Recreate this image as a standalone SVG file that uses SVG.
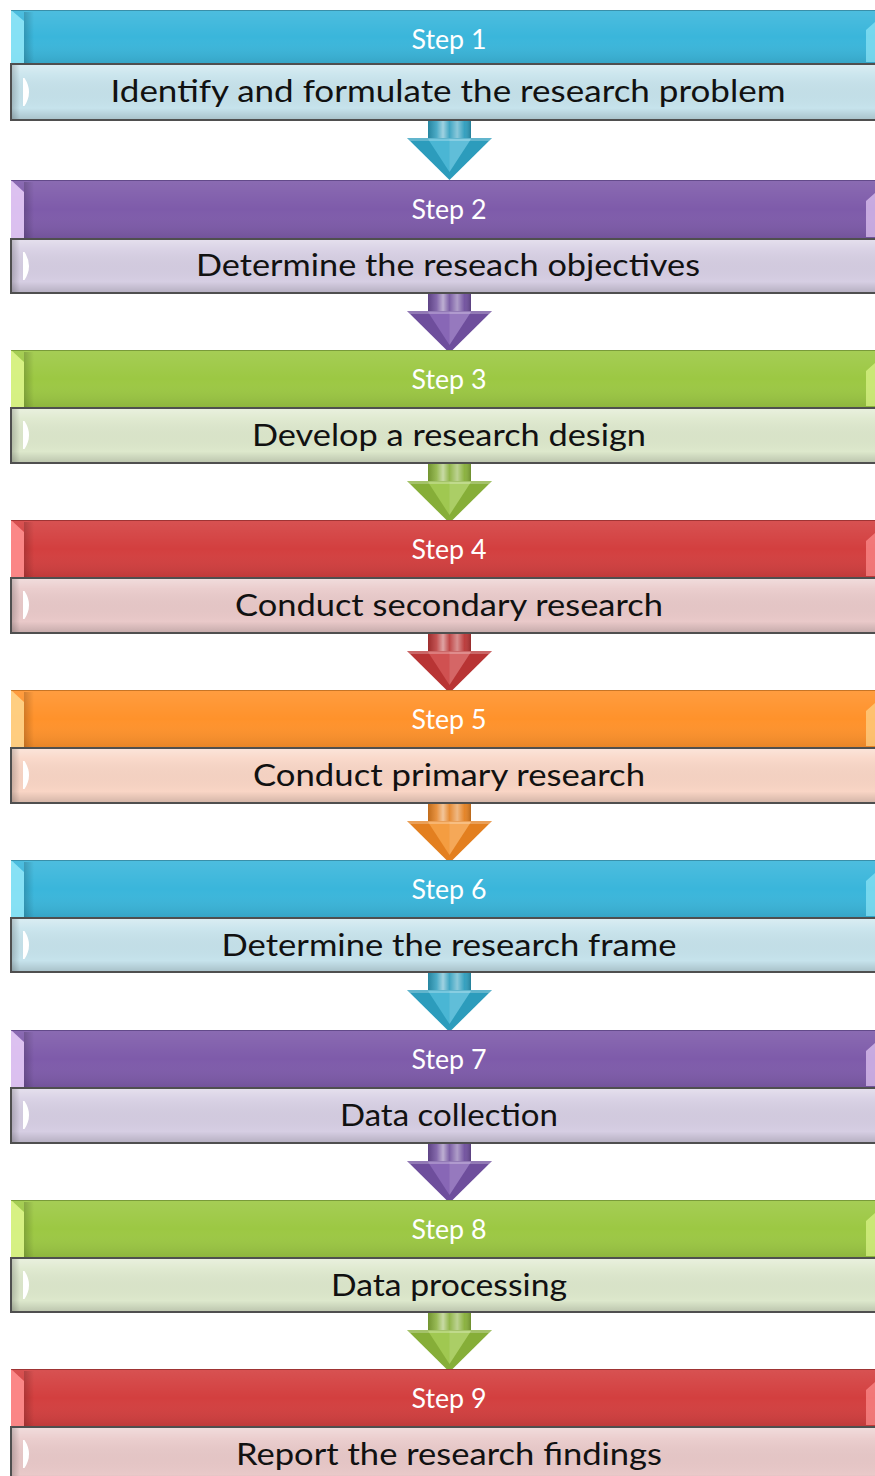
<svg xmlns="http://www.w3.org/2000/svg" width="875" height="1476" viewBox="0 0 875 1476">
  <defs>
    <style>
      .hdr-text { font-family: Lato, "Open Sans", "Liberation Sans", sans-serif; font-size: 26px; fill: #ffffff; text-anchor: middle; }
      .body-text { font-family: Lato, "Open Sans", "Liberation Sans", sans-serif; font-size: 30px; fill: #111111; text-anchor: middle; }
      .body { stroke: #4f4f4f; stroke-width: 2; }
      /* colour themes */
      .blue .hdr { fill: #3AB6DB; } .blue .body { fill: #C6E3EC; } .blue .bev { fill: #8EE6F7; } .blue .arr { fill: #2C9CBC; } .blue .arr-hi { fill: #5FC8E4; }
      .purple .hdr { fill: #7E5BAA; } .purple .body { fill: #D6CEE3; } .purple .bev { fill: #E6CBF7; } .purple .arr { fill: #6E4E9C; } .purple .arr-hi { fill: #9A78C8; }
      .green .hdr { fill: #9CC843; } .green .body { fill: #DDE8CC; } .green .bev { fill: #DDF58A; } .green .arr { fill: #86AE38; } .green .arr-hi { fill: #B2D862; }
      .red .hdr { fill: #D33F3F; } .red .body { fill: #E9C9C9; } .red .bev { fill: #FF8E8E; } .red .arr { fill: #B83434; } .red .arr-hi { fill: #E06666; }
      .orange .hdr { fill: #FF922B; } .orange .body { fill: #F9D5C5; } .orange .bev { fill: #FFD48A; } .orange .arr { fill: #E37F1F; } .orange .arr-hi { fill: #FFB058; }
    </style>
    <linearGradient id="hdrShade" x1="0" y1="0" x2="0" y2="1">
      <stop offset="0" stop-color="#ffffff" stop-opacity="0.10"/>
      <stop offset="0.5" stop-color="#ffffff" stop-opacity="0"/>
      <stop offset="1" stop-color="#000000" stop-opacity="0.10"/>
    </linearGradient>
    <linearGradient id="leftShade" x1="0" y1="0" x2="1" y2="0">
      <stop offset="0" stop-color="#000000" stop-opacity="0.18"/>
      <stop offset="1" stop-color="#000000" stop-opacity="0"/>
    </linearGradient>
    <linearGradient id="bodyShade" x1="0" y1="0" x2="0" y2="1">
      <stop offset="0" stop-color="#ffffff" stop-opacity="0.35"/>
      <stop offset="0.18" stop-color="#ffffff" stop-opacity="0.1"/>
      <stop offset="0.8" stop-color="#000000" stop-opacity="0"/>
      <stop offset="1" stop-color="#000000" stop-opacity="0.14"/>
    </linearGradient>
    <linearGradient id="shaftShade" x1="0" y1="0" x2="1" y2="0">
      <stop offset="0" stop-color="#000000" stop-opacity="0.15"/>
      <stop offset="0.2" stop-color="#ffffff" stop-opacity="0.15"/>
      <stop offset="0.35" stop-color="#ffffff" stop-opacity="0.55"/>
      <stop offset="0.5" stop-color="#ffffff" stop-opacity="0.1"/>
      <stop offset="0.68" stop-color="#ffffff" stop-opacity="0.45"/>
      <stop offset="0.85" stop-color="#ffffff" stop-opacity="0.05"/>
      <stop offset="1" stop-color="#000000" stop-opacity="0.2"/>
    </linearGradient>
    <!-- white half-lens highlight on the left of each body band -->
    <path id="lens" d="M0,0 h1.5 q9,14 0,28 h-1.5 z" fill="#ffffff"/>
  </defs>

  <rect width="875" height="1476" fill="#ffffff"/>

  <!-- connectors: downward arrows, each drawn with its top at local y=0 -->
  <g id="connectors">
    <g class="blue" transform="translate(0,120)">
      <rect class="arr" x="428" y="-1" width="43" height="20"/><rect x="428" y="-1" width="43" height="20" fill="url(#shaftShade)"/>
      <polygon class="arr" points="407,18 492,18 449.5,60"/><polygon class="arr-hi" points="428,19 471,19 449.5,52" opacity="0.6"/>
      <polygon points="449.5,19 471,19 449.5,52" fill="#ffffff" opacity="0.12"/><polygon points="407,18 492,18 489,21 410,21" fill="#ffffff" opacity="0.25"/>
    </g>
    <g class="purple" transform="translate(0,293)">
      <rect class="arr" x="428" y="-1" width="43" height="20"/><rect x="428" y="-1" width="43" height="20" fill="url(#shaftShade)"/>
      <polygon class="arr" points="407,18 492,18 449.5,60"/><polygon class="arr-hi" points="428,19 471,19 449.5,52" opacity="0.6"/>
      <polygon points="449.5,19 471,19 449.5,52" fill="#ffffff" opacity="0.12"/><polygon points="407,18 492,18 489,21 410,21" fill="#ffffff" opacity="0.25"/>
    </g>
    <g class="green" transform="translate(0,463)">
      <rect class="arr" x="428" y="-1" width="43" height="20"/><rect x="428" y="-1" width="43" height="20" fill="url(#shaftShade)"/>
      <polygon class="arr" points="407,18 492,18 449.5,60"/><polygon class="arr-hi" points="428,19 471,19 449.5,52" opacity="0.6"/>
      <polygon points="449.5,19 471,19 449.5,52" fill="#ffffff" opacity="0.12"/><polygon points="407,18 492,18 489,21 410,21" fill="#ffffff" opacity="0.25"/>
    </g>
    <g class="red" transform="translate(0,633)">
      <rect class="arr" x="428" y="-1" width="43" height="20"/><rect x="428" y="-1" width="43" height="20" fill="url(#shaftShade)"/>
      <polygon class="arr" points="407,18 492,18 449.5,60"/><polygon class="arr-hi" points="428,19 471,19 449.5,52" opacity="0.6"/>
      <polygon points="449.5,19 471,19 449.5,52" fill="#ffffff" opacity="0.12"/><polygon points="407,18 492,18 489,21 410,21" fill="#ffffff" opacity="0.25"/>
    </g>
    <g class="orange" transform="translate(0,803)">
      <rect class="arr" x="428" y="-1" width="43" height="20"/><rect x="428" y="-1" width="43" height="20" fill="url(#shaftShade)"/>
      <polygon class="arr" points="407,18 492,18 449.5,60"/><polygon class="arr-hi" points="428,19 471,19 449.5,52" opacity="0.6"/>
      <polygon points="449.5,19 471,19 449.5,52" fill="#ffffff" opacity="0.12"/><polygon points="407,18 492,18 489,21 410,21" fill="#ffffff" opacity="0.25"/>
    </g>
    <g class="blue" transform="translate(0,972)">
      <rect class="arr" x="428" y="-1" width="43" height="20"/><rect x="428" y="-1" width="43" height="20" fill="url(#shaftShade)"/>
      <polygon class="arr" points="407,18 492,18 449.5,60"/><polygon class="arr-hi" points="428,19 471,19 449.5,52" opacity="0.6"/>
      <polygon points="449.5,19 471,19 449.5,52" fill="#ffffff" opacity="0.12"/><polygon points="407,18 492,18 489,21 410,21" fill="#ffffff" opacity="0.25"/>
    </g>
    <g class="purple" transform="translate(0,1143)">
      <rect class="arr" x="428" y="-1" width="43" height="20"/><rect x="428" y="-1" width="43" height="20" fill="url(#shaftShade)"/>
      <polygon class="arr" points="407,18 492,18 449.5,60"/><polygon class="arr-hi" points="428,19 471,19 449.5,52" opacity="0.6"/>
      <polygon points="449.5,19 471,19 449.5,52" fill="#ffffff" opacity="0.12"/><polygon points="407,18 492,18 489,21 410,21" fill="#ffffff" opacity="0.25"/>
    </g>
    <g class="green" transform="translate(0,1312)">
      <rect class="arr" x="428" y="-1" width="43" height="20"/><rect x="428" y="-1" width="43" height="20" fill="url(#shaftShade)"/>
      <polygon class="arr" points="407,18 492,18 449.5,60"/><polygon class="arr-hi" points="428,19 471,19 449.5,52" opacity="0.6"/>
      <polygon points="449.5,19 471,19 449.5,52" fill="#ffffff" opacity="0.12"/><polygon points="407,18 492,18 489,21 410,21" fill="#ffffff" opacity="0.25"/>
    </g>
  </g>

  <!-- Step 1 -->
  <g id="step1" class="blue">
    <rect class="hdr" x="11" y="10" width="880" height="54"/>
    <rect x="11" y="10" width="880" height="54" fill="url(#hdrShade)"/>
    <rect x="24" y="12" width="10" height="52" fill="url(#leftShade)"/>
    <polygon class="bev" points="11,10 24,21 24,64 11,64" opacity="0.9"/>
    <polygon class="bev" points="875,22 866,30 866,62 875,62" opacity="0.7"/>
    <line x1="11" y1="10.5" x2="875" y2="10.5" stroke="#2d6f86" stroke-opacity="0.6"/>
    <text class="hdr-text" x="449" y="49" textLength="75" lengthAdjust="spacingAndGlyphs">Step 1</text>
    <rect class="body" x="11" y="64" width="880" height="56"/>
    <rect x="12" y="65" width="880" height="54" fill="url(#bodyShade)"/>
    <rect x="12" y="65" width="8" height="54" fill="url(#leftShade)"/>
    <use href="#lens" x="23" y="78"/>
    <text class="body-text" x="448" y="102" textLength="675" lengthAdjust="spacingAndGlyphs">Identify and formulate the research problem</text>
  </g>

  <!-- Step 2 -->
  <g id="step2" class="purple">
    <rect class="hdr" x="11" y="180" width="880" height="59"/>
    <rect x="11" y="180" width="880" height="59" fill="url(#hdrShade)"/>
    <rect x="24" y="182" width="10" height="57" fill="url(#leftShade)"/>
    <polygon class="bev" points="11,180 24,192 24,239 11,239" opacity="0.9"/>
    <polygon class="bev" points="875,193 866,201 866,237 875,237" opacity="0.7"/>
    <line x1="11" y1="180.5" x2="875" y2="180.5" stroke="#4a3470" stroke-opacity="0.6"/>
    <text class="hdr-text" x="449" y="219" textLength="75" lengthAdjust="spacingAndGlyphs">Step 2</text>
    <rect class="body" x="11" y="239" width="880" height="54"/>
    <rect x="12" y="240" width="880" height="52" fill="url(#bodyShade)"/>
    <rect x="12" y="240" width="8" height="52" fill="url(#leftShade)"/>
    <use href="#lens" x="23" y="252"/>
    <text class="body-text" x="448" y="276" textLength="504" lengthAdjust="spacingAndGlyphs">Determine the reseach objectives</text>
  </g>

  <!-- Step 3 -->
  <g id="step3" class="green">
    <rect class="hdr" x="11" y="350" width="880" height="58"/>
    <rect x="11" y="350" width="880" height="58" fill="url(#hdrShade)"/>
    <rect x="24" y="352" width="10" height="56" fill="url(#leftShade)"/>
    <polygon class="bev" points="11,350 24,362 24,408 11,408" opacity="0.9"/>
    <polygon class="bev" points="875,363 866,371 866,406 875,406" opacity="0.7"/>
    <line x1="11" y1="350.5" x2="875" y2="350.5" stroke="#5c7a26" stroke-opacity="0.6"/>
    <text class="hdr-text" x="449" y="389" textLength="75" lengthAdjust="spacingAndGlyphs">Step 3</text>
    <rect class="body" x="11" y="408" width="880" height="55"/>
    <rect x="12" y="409" width="880" height="53" fill="url(#bodyShade)"/>
    <rect x="12" y="409" width="8" height="53" fill="url(#leftShade)"/>
    <use href="#lens" x="23" y="421"/>
    <text class="body-text" x="449" y="446" textLength="394" lengthAdjust="spacingAndGlyphs">Develop a research design</text>
  </g>

  <!-- Step 4 -->
  <g id="step4" class="red">
    <rect class="hdr" x="11" y="520" width="880" height="58"/>
    <rect x="11" y="520" width="880" height="58" fill="url(#hdrShade)"/>
    <rect x="24" y="522" width="10" height="56" fill="url(#leftShade)"/>
    <polygon class="bev" points="11,520 24,532 24,578 11,578" opacity="0.9"/>
    <polygon class="bev" points="875,533 866,541 866,576 875,576" opacity="0.7"/>
    <line x1="11" y1="520.5" x2="875" y2="520.5" stroke="#7a2222" stroke-opacity="0.6"/>
    <text class="hdr-text" x="449" y="559" textLength="75" lengthAdjust="spacingAndGlyphs">Step 4</text>
    <rect class="body" x="11" y="578" width="880" height="55"/>
    <rect x="12" y="579" width="880" height="53" fill="url(#bodyShade)"/>
    <rect x="12" y="579" width="8" height="53" fill="url(#leftShade)"/>
    <use href="#lens" x="23" y="591"/>
    <text class="body-text" x="449" y="616" textLength="428" lengthAdjust="spacingAndGlyphs">Conduct secondary research</text>
  </g>

  <!-- Step 5 -->
  <g id="step5" class="orange">
    <rect class="hdr" x="11" y="690" width="880" height="58"/>
    <rect x="11" y="690" width="880" height="58" fill="url(#hdrShade)"/>
    <rect x="24" y="692" width="10" height="56" fill="url(#leftShade)"/>
    <polygon class="bev" points="11,690 24,702 24,748 11,748" opacity="0.9"/>
    <polygon class="bev" points="875,703 866,711 866,746 875,746" opacity="0.7"/>
    <line x1="11" y1="690.5" x2="875" y2="690.5" stroke="#a25a14" stroke-opacity="0.6"/>
    <text class="hdr-text" x="449" y="729" textLength="75" lengthAdjust="spacingAndGlyphs">Step 5</text>
    <rect class="body" x="11" y="748" width="880" height="55"/>
    <rect x="12" y="749" width="880" height="53" fill="url(#bodyShade)"/>
    <rect x="12" y="749" width="8" height="53" fill="url(#leftShade)"/>
    <use href="#lens" x="23" y="761"/>
    <text class="body-text" x="449" y="786" textLength="392" lengthAdjust="spacingAndGlyphs">Conduct primary research</text>
  </g>

  <!-- Step 6 -->
  <g id="step6" class="blue">
    <rect class="hdr" x="11" y="860" width="880" height="58"/>
    <rect x="11" y="860" width="880" height="58" fill="url(#hdrShade)"/>
    <rect x="24" y="862" width="10" height="56" fill="url(#leftShade)"/>
    <polygon class="bev" points="11,860 24,872 24,918 11,918" opacity="0.9"/>
    <polygon class="bev" points="875,873 866,881 866,916 875,916" opacity="0.7"/>
    <line x1="11" y1="860.5" x2="875" y2="860.5" stroke="#2d6f86" stroke-opacity="0.6"/>
    <text class="hdr-text" x="449" y="899" textLength="75" lengthAdjust="spacingAndGlyphs">Step 6</text>
    <rect class="body" x="11" y="918" width="880" height="54"/>
    <rect x="12" y="919" width="880" height="52" fill="url(#bodyShade)"/>
    <rect x="12" y="919" width="8" height="52" fill="url(#leftShade)"/>
    <use href="#lens" x="23" y="931"/>
    <text class="body-text" x="449" y="956" textLength="455" lengthAdjust="spacingAndGlyphs">Determine the research frame</text>
  </g>

  <!-- Step 7 -->
  <g id="step7" class="purple">
    <rect class="hdr" x="11" y="1030" width="880" height="58"/>
    <rect x="11" y="1030" width="880" height="58" fill="url(#hdrShade)"/>
    <rect x="24" y="1032" width="10" height="56" fill="url(#leftShade)"/>
    <polygon class="bev" points="11,1030 24,1042 24,1088 11,1088" opacity="0.9"/>
    <polygon class="bev" points="875,1043 866,1051 866,1086 875,1086" opacity="0.7"/>
    <line x1="11" y1="1030.5" x2="875" y2="1030.5" stroke="#4a3470" stroke-opacity="0.6"/>
    <text class="hdr-text" x="449" y="1069" textLength="75" lengthAdjust="spacingAndGlyphs">Step 7</text>
    <rect class="body" x="11" y="1088" width="880" height="55"/>
    <rect x="12" y="1089" width="880" height="53" fill="url(#bodyShade)"/>
    <rect x="12" y="1089" width="8" height="53" fill="url(#leftShade)"/>
    <use href="#lens" x="23" y="1101"/>
    <text class="body-text" x="449" y="1126" textLength="218" lengthAdjust="spacingAndGlyphs">Data collection</text>
  </g>

  <!-- Step 8 -->
  <g id="step8" class="green">
    <rect class="hdr" x="11" y="1200" width="880" height="58"/>
    <rect x="11" y="1200" width="880" height="58" fill="url(#hdrShade)"/>
    <rect x="24" y="1202" width="10" height="56" fill="url(#leftShade)"/>
    <polygon class="bev" points="11,1200 24,1212 24,1258 11,1258" opacity="0.9"/>
    <polygon class="bev" points="875,1213 866,1221 866,1256 875,1256" opacity="0.7"/>
    <line x1="11" y1="1200.5" x2="875" y2="1200.5" stroke="#5c7a26" stroke-opacity="0.6"/>
    <text class="hdr-text" x="449" y="1239" textLength="75" lengthAdjust="spacingAndGlyphs">Step 8</text>
    <rect class="body" x="11" y="1258" width="880" height="54"/>
    <rect x="12" y="1259" width="880" height="52" fill="url(#bodyShade)"/>
    <rect x="12" y="1259" width="8" height="52" fill="url(#leftShade)"/>
    <use href="#lens" x="23" y="1271"/>
    <text class="body-text" x="449" y="1296" textLength="236" lengthAdjust="spacingAndGlyphs">Data processing</text>
  </g>

  <!-- Step 9 -->
  <g id="step9" class="red">
    <rect class="hdr" x="11" y="1369" width="880" height="58"/>
    <rect x="11" y="1369" width="880" height="58" fill="url(#hdrShade)"/>
    <rect x="24" y="1371" width="10" height="56" fill="url(#leftShade)"/>
    <polygon class="bev" points="11,1369 24,1381 24,1427 11,1427" opacity="0.9"/>
    <polygon class="bev" points="875,1382 866,1390 866,1425 875,1425" opacity="0.7"/>
    <line x1="11" y1="1369.5" x2="875" y2="1369.5" stroke="#7a2222" stroke-opacity="0.6"/>
    <text class="hdr-text" x="449" y="1408" textLength="75" lengthAdjust="spacingAndGlyphs">Step 9</text>
    <rect class="body" x="11" y="1427" width="880" height="60"/>
    <rect x="12" y="1428" width="880" height="58" fill="url(#bodyShade)"/>
    <rect x="12" y="1428" width="8" height="48" fill="url(#leftShade)"/>
    <use href="#lens" x="23" y="1440"/>
    <text class="body-text" x="449" y="1465" textLength="426" lengthAdjust="spacingAndGlyphs">Report the research findings</text>
  </g>
</svg>
